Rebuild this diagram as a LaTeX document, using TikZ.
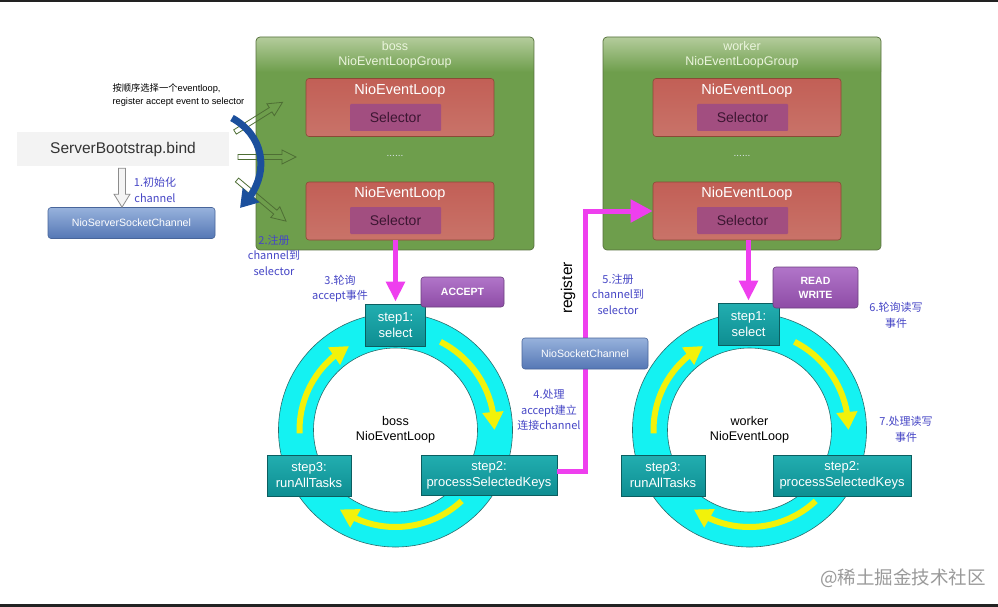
\documentclass[tikz,border=0pt]{standalone}
\usepackage{fontspec}
\setmainfont{Liberation Sans}
\newfontfamily\cjk{Noto Sans CJK SC}
\usetikzlibrary{arrows.meta,bending,calc}
\definecolor{grpgreen}{HTML}{6E9E4C}
\definecolor{grphi}{HTML}{B4CC9C}
\definecolor{grpborder}{HTML}{56703C}
\definecolor{grptext}{HTML}{EAF4DC}
\definecolor{looptop}{HTML}{C25F56}
\definecolor{loopbot}{HTML}{C97369}
\definecolor{loopborder}{HTML}{8A4A36}
\definecolor{selfill}{HTML}{A24E80}
\definecolor{seltext}{HTML}{3C1632}
\definecolor{steptop}{HTML}{22AEB0}
\definecolor{stepbot}{HTML}{0E8E92}
\definecolor{stepborder}{HTML}{0B5E60}
\definecolor{bluetop}{HTML}{97B2DC}
\definecolor{bluebot}{HTML}{5577B5}
\definecolor{blueborder}{HTML}{48659A}
\definecolor{evtop}{HTML}{B175C9}
\definecolor{evbot}{HTML}{8E4CA6}
\definecolor{evborder}{HTML}{6B3F7E}
\definecolor{ringcyan}{HTML}{14F2F2}
\definecolor{ringline}{HTML}{2C6B6B}
\definecolor{arrowyellow}{HTML}{F2F20A}
\definecolor{darkblue}{HTML}{1B4F9C}
\definecolor{harrowline}{HTML}{4E6E34}
\definecolor{notecol}{HTML}{4646C6}
\definecolor{barcol}{HTML}{222222}
\definecolor{sbfill}{HTML}{F3F3F3}
\definecolor{sbtext}{HTML}{333333}
\definecolor{grayfill}{HTML}{F4F4F4}
\definecolor{grayline}{HTML}{8C8C8C}
\definecolor{magcol}{HTML}{EE3FEE}
\definecolor{dotcol}{HTML}{DDE6EE}
\definecolor{wmark}{HTML}{9A9A9A}
\begin{document}
\begin{tikzpicture}[x=1pt,y=-1pt,
  grpframe/.style={draw=grpborder, line width=0.7pt, rounded corners=4pt, minimum width=278pt, minimum height=213pt, inner sep=0pt},
  grptitle/.style={text=grptext, align=center, font=\fontsize{12.5}{15}\selectfont},
  loopbox/.style={draw=loopborder, line width=0.6pt, rounded corners=3pt, top color=looptop, bottom color=loopbot, minimum width=188pt, minimum height=58pt, inner sep=0pt},
  looptitle/.style={text=white, font=\fontsize{14.5}{16}\selectfont},
  selbox/.style={fill=selfill, minimum width=91pt, minimum height=27pt, inner sep=0pt, rounded corners=1pt, text=seltext, font=\fontsize{14}{16}\selectfont},
  dotsty/.style={text=dotcol, font=\fontsize{10}{12}\selectfont},
  stepbox/.style={draw=stepborder, line width=0.6pt, top color=steptop, bottom color=stepbot, text=white, align=center, inner sep=0pt, font=\fontsize{13}{16}\selectfont},
  bluebox/.style={draw=blueborder, line width=0.6pt, rounded corners=3pt, top color=bluetop, bottom color=bluebot, text=white, inner sep=0pt, font=\fontsize{10.6}{12}\selectfont},
  evbox/.style={draw=evborder, line width=0.6pt, rounded corners=3pt, top color=evtop, bottom color=evbot, text=white, align=center, inner sep=0pt, font=\bfseries\fontsize{10.5}{14}\selectfont},
  note/.style={text=notecol, align=center, font=\cjk\fontsize{11}{15.5}\selectfont},
  centertext/.style={text=black, align=center, font=\fontsize{12.6}{15}\selectfont},
  ringsty/.style={fill=ringcyan, draw=ringline, line width=0.6pt, even odd rule},
  cycarrow/.style={draw=arrowyellow, line width=6pt, -{Triangle[length=18pt,width=20pt,flex]}},
  magarrow/.style={draw=magcol, line width=5pt, -{Triangle[length=20pt,width=18pt]}},
  magline/.style={draw=magcol, line width=5pt, -{Triangle[length=22pt,width=22pt]}},
  harrow/.style={draw=harrowline, line width=0.8pt},
  grayarrow/.style={draw=grayline, fill=grayfill, line width=0.8pt},
  bluecurve/.style={draw=darkblue, line width=7pt, -{Triangle[length=17pt,width=21pt,flex]}}
]
\useasboundingbox (0,0) rectangle (998,607);
\fill[white] (0,0) rectangle (998,607);
\fill[barcol] (0,0) rectangle (998,2);
\fill[barcol] (0,604) rectangle (998,607);

% ---------- groups ----------
\foreach \gx/\nm in {395/b, 742/w}{
  \begin{scope}
    \clip[rounded corners=4pt] (\gx-139,37) rectangle (\gx+139,250);
    \fill[grpgreen] (\gx-139,37) rectangle (\gx+139,250);
    \shade[top color=grphi, bottom color=grpgreen] (\gx-139,37) rectangle (\gx+139,72);
  \end{scope}
  \node[grpframe] (\nm g) at (\gx,143.5) {};
  \node[loopbox] (\nm l1) at (\gx+5,107.5) {};
  \node[looptitle] at (\gx+5,91) {NioEventLoop};
  \node[selbox] (\nm sel1) at (\gx+0.5,117.5) {Selector};
  \node[dotsty] at (\gx,156) {......};
  \node[loopbox] (\nm l2) at (\gx+5,211) {};
  \node[looptitle] at (\gx+5,194) {NioEventLoop};
  \node[selbox] (\nm sel2) at (\gx+0.5,220.5) {Selector};
}
\node[grptitle] at (395,54.5) {boss\\NioEventLoopGroup};
\node[grptitle] at (742,54.5) {worker\\NioEventLoopGroup};

% ---------- rings ----------
\foreach \cx in {395.5, 749.5}{
  \path[ringsty] (\cx,430) circle[radius=117] (\cx,430) circle[radius=82];
  \draw[cycarrow] (\cx,430) ++(-63:99) arc[start angle=-63, end angle=0, radius=99];
  \draw[cycarrow] (\cx,430) ++(47:97) arc[start angle=47, end angle=125, radius=97];
  \draw[cycarrow] (\cx,430) ++(-182:96) arc[start angle=-182, end angle=-119, radius=96];
}
\node[centertext] at (395.5,430) {boss\\NioEventLoop};
\node[centertext] at (749.5,430) {worker\\NioEventLoop};

% ---------- step boxes ----------
\node[stepbox, minimum width=60pt, minimum height=42pt] (bs1) at (395.5,325) {step1:\\select};
\node[stepbox, minimum width=136pt, minimum height=40pt] (bs2) at (489,475) {step2:\\processSelectedKeys};
\node[stepbox, minimum width=84pt, minimum height=41pt] (bs3) at (309,475.5) {step3:\\runAllTasks};
\node[stepbox, minimum width=61pt, minimum height=42pt] (ws1) at (748.5,324) {step1:\\select};
\node[stepbox, minimum width=138pt, minimum height=41pt] (ws2) at (842,475.5) {step2:\\processSelectedKeys};
\node[stepbox, minimum width=84pt, minimum height=41pt] (ws3) at (663,475.5) {step3:\\runAllTasks};

\node[evbox, minimum width=83pt, minimum height=30pt] (acc) at (462.5,292) {ACCEPT};
\node[evbox, minimum width=85pt, minimum height=41pt] (rw) at (815.5,287.5) {READ\\WRITE};

% ---------- magenta connectors ----------
\draw[magarrow] (bs1.north |- bl2.south) -- ([yshift=2pt]bs1.north);
\draw[magarrow] (ws1.north |- wl2.south) -- ([yshift=2pt]ws1.north);
\coordinate (regc) at (585,211);
\draw[magline] ([yshift=4pt]bs2.east) -| (regc) -- (wl2.west);
\node[bluebox, minimum width=126pt, minimum height=31pt] (nsc) at (585,353.5) {NioSocketChannel};
\node[font=\fontsize{15.5}{18}\selectfont, rotate=90] at (568,288) {register};

% ---------- left side ----------
\node[fill=sbfill, minimum width=212pt, minimum height=33pt, inner sep=0pt, text=sbtext, font=\fontsize{15.5}{18}\selectfont] (sb) at (123,149) {ServerBootstrap.bind};
\node[bluebox, minimum width=167pt, minimum height=31pt] (nssc) at (131.5,223) {NioServerSocketChannel};
\path ([xshift=-1pt]sb.south) ++(0,2.5) coordinate (ga);
\draw[grayarrow] (ga) ++(-3.5,0) -- ++(7,0) -- ++(0,26) -- ++(4.5,0) -- ++(-8,13) -- ++(-8,-13) -- ++(4.5,0) -- cycle;
\node[note] at (155,190) {1.初始化\\channel};

\node[anchor=west, align=left, text=black, font=\fontsize{9.3}{12.5}\selectfont] (hint) at (109,95) {{\cjk 按顺序选择一个}eventloop,\\register accept event to selector};

% hollow green arrows
\draw[harrow, shift={(235,132)}, rotate=32] (0,-2.5) -- (42,-2.5) -- (42,-7) -- (56,0) -- (42,7) -- (42,2.5) -- (0,2.5) -- cycle;
\draw[harrow, shift={(238,157)}, rotate=0] (0,-2.5) -- (44,-2.5) -- (44,-7) -- (58,0) -- (44,7) -- (44,2.5) -- (0,2.5) -- cycle;
\draw[harrow, shift={(237,180)}, rotate=-40] (0,-2.5) -- (50,-2.5) -- (50,-7) -- (64,0) -- (50,7) -- (50,2.5) -- (0,2.5) -- cycle;

% blue curved arrow
\coordinate (bcs) at (232,118);
\coordinate (bce) at (240,208);
\draw[bluecurve] (bcs) .. controls (268,138) and (270,180) .. (bce);

% ---------- blue notes ----------
\node[note] at (274,255) {2.注册\\channel到\\selector};
\node[note] at (340,288.5) {3.轮询\\accept事件};
\node[note] at (549,410) {4.处理\\accept建立\\连接channel};
\node[note] at (618,294) {5.注册\\channel到\\selector};
\node[note] at (896,315.5) {6.轮询读写\\事件};
\node[note] at (906,429.5) {7.处理读写\\事件};

% watermark
\node[text=wmark, font=\cjk\fontsize{18.5}{20}\selectfont] at (903,578) {@稀土掘金技术社区};
\end{tikzpicture}
\end{document}
